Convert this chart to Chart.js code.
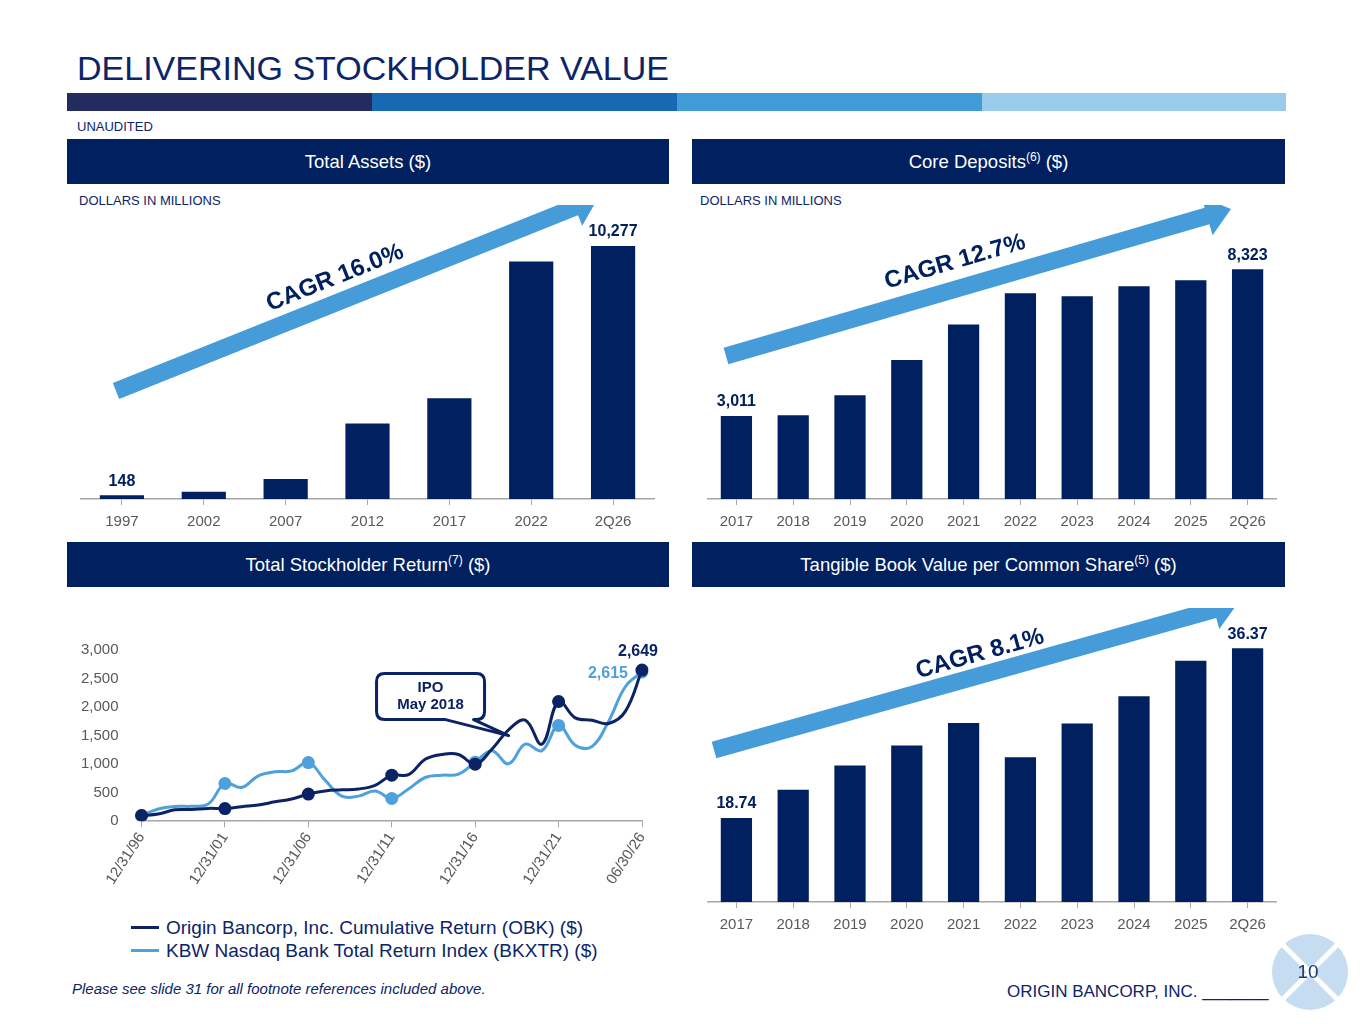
<!DOCTYPE html>
<html>
<head>
<meta charset="utf-8">
<script src="https://cdn.jsdelivr.net/npm/chart.js@4.4.1/dist/chart.umd.min.js"></script>
<style>
  body { margin:0; width:1365px; height:1024px; background:#fff; position:relative; overflow:hidden;
         font-family:"Liberation Sans", Arial, sans-serif; }
  .abs { position:absolute; }
  .title { left:77px; top:49px; font-size:34px; color:#0c2468; white-space:nowrap; }
  .band { top:93px; height:18px; }
  .small { font-size:13px; color:#0c2468; }
  .hdr { background:#002060; color:#fff; font-size:18.5px; text-align:center; height:45px; line-height:45px; }
  .hdr sup { font-size:12px; line-height:0; vertical-align:7px; }
  .legend { left:131px; font-size:19px; color:#0c2468; white-space:nowrap; }
  .legend span { display:inline-block; width:28px; height:3px; vertical-align:middle; margin-right:7px; margin-top:-3px; }
  .box { position:absolute; }
</style>
</head>
<body>

<div class="abs title">DELIVERING STOCKHOLDER VALUE</div>
<div class="abs band" style="left:67px;width:305px;background:#242b5e"></div>
<div class="abs band" style="left:372px;width:305px;background:#1769b3"></div>
<div class="abs band" style="left:677px;width:305px;background:#409bd7"></div>
<div class="abs band" style="left:982px;width:304px;background:#9bcbea"></div>
<div class="abs small" style="left:77px;top:119px">UNAUDITED</div>

<div class="abs hdr" style="left:67px;top:139px;width:602px">Total Assets ($)</div>
<div class="abs hdr" style="left:692px;top:139px;width:593px">Core Deposits<sup>(6)</sup> ($)</div>
<div class="abs hdr" style="left:67px;top:542px;width:602px">Total Stockholder Return<sup>(7)</sup> ($)</div>
<div class="abs hdr" style="left:692px;top:542px;width:593px">Tangible Book Value per Common Share<sup>(5)</sup> ($)</div>

<div class="abs small" style="left:79px;top:193px">DOLLARS IN MILLIONS</div>
<div class="abs small" style="left:700px;top:193px">DOLLARS IN MILLIONS</div>

<div class="box" id="boxAssets"><canvas id="assets"></canvas></div>
<div class="box" id="boxDeposits"><canvas id="deposits"></canvas></div>
<div class="box" id="boxTsr"><canvas id="tsr"></canvas></div>
<div class="box" id="boxTbv"><canvas id="tbv"></canvas></div>

<div class="abs legend" style="top:917px"><span style="background:#0b2265"></span>Origin Bancorp, Inc. Cumulative Return (OBK) ($)</div>
<div class="abs legend" style="top:940px"><span style="background:#4ea1db"></span>KBW Nasdaq Bank Total Return Index (BKXTR) ($)</div>

<div class="abs" style="left:72px;top:980px;font-size:15px;font-style:italic;color:#0c2468;white-space:nowrap">Please see slide 31 for all footnote references included above.</div>
<div class="abs" style="left:1007px;top:982px;font-size:17px;color:#0c2468;white-space:nowrap">ORIGIN BANCORP, INC. _______</div>

<svg class="abs" style="left:1270px;top:932px" width="80" height="80">
  <circle cx="40" cy="40" r="38" fill="#c6ddf1"/>
  <line x1="13" y1="13" x2="67" y2="67" stroke="#fff" stroke-width="5"/>
  <line x1="67" y1="13" x2="13" y2="67" stroke="#fff" stroke-width="5"/>
  <text x="38" y="46" font-size="19" fill="#1f3a6b" text-anchor="middle" font-family="Liberation Sans, Arial">10</text>
</svg>

<script>
// ---- data ----
const assetYears = ['1997', '2002', '2007', '2012', '2017', '2022', '2Q26'];
const assetValues = [148, 297, 811, 3070, 4097, 9655, 10277];

const depositYears = ['2017', '2018', '2019', '2020', '2021', '2022', '2023', '2024', '2025', '2Q26'];
const depositValues = [3011, 3035, 3758, 5035, 6324, 7456, 7347, 7709, 7926, 8323];

const tbvYears = ['2017', '2018', '2019', '2020', '2021', '2022', '2023', '2024', '2025', '2Q26'];
const tbvValues = [18.74, 21.67, 24.18, 26.25, 28.59, 25.04, 28.55, 31.38, 35.06, 36.37];

const tsrDates = ['12/31/96', '12/31/97', '12/31/98', '12/31/99', '12/31/00', '12/31/01', '12/31/02',
  '12/31/03', '12/31/04', '12/31/05', '12/31/06', '12/31/07', '12/31/08', '12/31/09', '12/31/10',
  '12/31/11', '12/31/12', '12/31/13', '12/31/14', '12/31/15', '12/31/16', '12/31/17', '12/31/18',
  '12/31/19', '12/31/20', '12/31/21', '12/31/22', '12/31/23', '12/31/24', '12/31/25', '06/30/26'];
const obkReturn = [100, 125, 200, 205, 225, 222, 255, 285, 340, 390, 476, 530, 550, 565, 630,
  807, 815, 1085, 1170, 1170, 1000, 1260, 1600, 1770, 1350, 2098, 1810, 1770, 1713, 1925, 2649];
const bkxtrReturn = [100, 215, 260, 262, 300, 661, 592, 795, 865, 882, 1027, 720, 440, 440, 530,
  400, 563, 766, 807, 824, 1034, 1236, 1006, 1350, 1236, 1678, 1333, 1310, 1753, 2356, 2615];
const tsrTicks = [0, 500, 1000, 1500, 2000, 2500, 3000];

const NAVY = '#002060';
const LIGHT = '#4ea1db';
const ARROW = '#469cd8';
const GRAY = '#595959';
const FONT = '"Liberation Sans", Arial, sans-serif';

// container boxes on the page
const boxes = {
  boxAssets:   { left: 67,  top: 205, width: 602, height: 334 },
  boxDeposits: { left: 692, top: 205, width: 593, height: 334 },
  boxTsr:      { left: 50,  top: 626, width: 619, height: 264 },
  boxTbv:      { left: 692, top: 608, width: 593, height: 334 }
};
Object.keys(boxes).forEach(id => {
  const b = boxes[id], el = document.getElementById(id);
  el.style.left = b.left + 'px'; el.style.top = b.top + 'px';
  el.style.width = b.width + 'px'; el.style.height = b.height + 'px';
});

// growth arrow + CAGR label, given in page coordinates
const decoPlugin = {
  id: 'deco',
  afterDatasetsDraw(chart, args, opts) {
    if (!opts || !opts.arrow) return;
    const ctx = chart.ctx;
    const ox = opts.box.left, oy = opts.box.top;
    const a = opts.arrow;
    const x0 = a.x0 - ox, y0 = a.y0 - oy, x1 = a.x1 - ox, y1 = a.y1 - oy;
    const len = Math.hypot(x1 - x0, y1 - y0);
    const ux = (x1 - x0) / len, uy = (y1 - y0) / len;
    const nx = -uy, ny = ux;
    const t = 17, hw = 40, hl = 25;
    const bx = x1 - ux * hl, by = y1 - uy * hl;
    ctx.save();
    ctx.fillStyle = ARROW;
    ctx.beginPath();
    ctx.moveTo(x0 + nx * t / 2, y0 + ny * t / 2);
    ctx.lineTo(bx + nx * t / 2, by + ny * t / 2);
    ctx.lineTo(bx + nx * hw / 2, by + ny * hw / 2);
    ctx.lineTo(x1, y1);
    ctx.lineTo(bx - nx * hw / 2, by - ny * hw / 2);
    ctx.lineTo(bx - nx * t / 2, by - ny * t / 2);
    ctx.lineTo(x0 - nx * t / 2, y0 - ny * t / 2);
    ctx.closePath();
    ctx.fill();
    // CAGR text
    ctx.translate(opts.text.x - ox, opts.text.y - oy);
    ctx.rotate(Math.atan2(uy, ux));
    ctx.fillStyle = NAVY;
    ctx.font = 'bold 24px ' + FONT;
    ctx.textAlign = 'center';
    ctx.textBaseline = 'middle';
    ctx.fillText(opts.text.label, 0, 0);
    ctx.restore();
  }
};

// value labels over first and last bars
const endLabels = {
  id: 'endLabels',
  afterDatasetsDraw(chart, args, opts) {
    if (!opts || !opts.format) return;
    const meta = chart.getDatasetMeta(0);
    const data = chart.data.datasets[0].data;
    const ctx = chart.ctx;
    ctx.save();
    ctx.fillStyle = NAVY;
    ctx.font = 'bold 16px ' + FONT;
    ctx.textAlign = 'center';
    ctx.textBaseline = 'bottom';
    [0, data.length - 1].forEach(i => {
      const bar = meta.data[i];
      ctx.fillText(opts.format(data[i]), bar.x, bar.y - 6);
    });
    ctx.restore();
  }
};

function barChart(id, boxId, labels, values, yMin, yMax, barPct, deco, fmt, pad) {
  return new Chart(document.getElementById(id), {
    type: 'bar',
    data: { labels: labels, datasets: [{ data: values, backgroundColor: NAVY, barPercentage: barPct, categoryPercentage: 1 }] },
    options: {
      responsive: true, maintainAspectRatio: false, animation: false,
      layout: { padding: pad },
      plugins: {
        legend: { display: false }, tooltip: { enabled: false },
        deco: Object.assign({ box: boxes[boxId] }, deco),
        endLabels: { format: fmt }
      },
      scales: {
        x: {
          grid: { display: true, drawOnChartArea: false, offset: false, tickLength: 6, color: '#a6a6a6', lineWidth: 1 },
          border: { color: '#a6a6a6', width: 1.5 },
          ticks: { color: GRAY, font: { size: 15, family: FONT }, padding: 8 }
        },
        y: { display: false, min: yMin, max: yMax }
      }
    },
    plugins: [decoPlugin, endLabels]
  });
}

barChart('assets', 'boxAssets', assetYears, assetValues, 0, 11540, 0.54,
  { arrow: { x0: 116, y0: 391, x1: 598, y1: 198 }, text: { x: 335, y: 278, label: 'CAGR 16.0%' } },
  v => v.toLocaleString('en-US'), { top: 10, left: 14, right: 15 });

barChart('deposits', 'boxDeposits', depositYears, depositValues, 0, 10290, 0.55,
  { arrow: { x0: 726, y0: 356, x1: 1231, y1: 209 }, text: { x: 955, y: 262, label: 'CAGR 12.7%' } },
  v => v.toLocaleString('en-US'), { top: 10, left: 16, right: 9 });

barChart('tbv', 'boxTbv', tbvYears, tbvValues, 10, 39.3, 0.55,
  { arrow: { x0: 714, y0: 750, x1: 1238, y1: 603 }, text: { x: 980, y: 654, label: 'CAGR 8.1%' } },
  v => v.toFixed(2), { top: 12, left: 16, right: 9 });

// IPO callout and end values on the return chart
const tsrExtras = {
  id: 'tsrExtras',
  afterDatasetsDraw(chart) {
    const ctx = chart.ctx;
    const xs = chart.scales.x, ys = chart.scales.y;
    const ipoIdx = tsrDates.indexOf('12/31/18');
    const tx = xs.getPixelForValue(ipoIdx), ty = ys.getPixelForValue(1500);
    const w = 108, h = 46, r = 8;
    const left = tx - 132, top = ty - 16 - h, right = left + w, bottom = top + h;
    ctx.save();
    ctx.beginPath();
    ctx.moveTo(left + r, top);
    ctx.lineTo(right - r, top);
    ctx.quadraticCurveTo(right, top, right, top + r);
    ctx.lineTo(right, bottom - r);
    ctx.quadraticCurveTo(right, bottom, right - r, bottom);
    ctx.lineTo(left + 97, bottom);
    ctx.lineTo(tx, ty);
    ctx.lineTo(left + 69, bottom);
    ctx.lineTo(left + r, bottom);
    ctx.quadraticCurveTo(left, bottom, left, bottom - r);
    ctx.lineTo(left, top + r);
    ctx.quadraticCurveTo(left, top, left + r, top);
    ctx.closePath();
    ctx.fillStyle = '#fff';
    ctx.fill();
    ctx.lineWidth = 3;
    ctx.strokeStyle = '#0b2265';
    ctx.lineJoin = 'round';
    ctx.stroke();
    ctx.fillStyle = '#0b2265';
    ctx.font = 'bold 15px ' + FONT;
    ctx.textAlign = 'center';
    ctx.textBaseline = 'middle';
    ctx.fillText('IPO', left + w / 2, top + 14);
    ctx.fillText('May 2018', left + w / 2, top + 31);

    const last = obkReturn.length - 1;
    const p0 = chart.getDatasetMeta(0).data[last];
    const p1 = chart.getDatasetMeta(1).data[last];
    ctx.font = 'bold 16px ' + FONT;
    ctx.fillStyle = '#0b2265';
    ctx.textBaseline = 'bottom';
    ctx.fillText(obkReturn[last].toLocaleString('en-US'), p0.x - 4, p0.y - 10);
    ctx.fillStyle = LIGHT;
    ctx.textAlign = 'right';
    ctx.textBaseline = 'middle';
    ctx.fillText(bkxtrReturn[last].toLocaleString('en-US'), p1.x - 14, p1.y + 2);
    ctx.restore();
  }
};

const markerRadius = c => (c.dataIndex % 5 === 0 ? 6.5 : 0);

new Chart(document.getElementById('tsr'), {
  type: 'line',
  data: {
    labels: tsrDates,
    datasets: [
      { label: 'Origin Bancorp, Inc. Cumulative Return (OBK) ($)', data: obkReturn, borderColor: '#0b2265',
        backgroundColor: '#0b2265', borderWidth: 3, tension: 0.4, pointRadius: markerRadius, pointBorderWidth: 0 },
      { label: 'KBW Nasdaq Bank Total Return Index (BKXTR) ($)', data: bkxtrReturn, borderColor: LIGHT,
        backgroundColor: LIGHT, borderWidth: 3, tension: 0.4, pointRadius: markerRadius, pointBorderWidth: 0 }
    ]
  },
  options: {
    responsive: true, maintainAspectRatio: false, animation: false,
    layout: { padding: { top: 8, left: 16, right: 27 } },
    plugins: { legend: { display: false }, tooltip: { enabled: false } },
    scales: {
      x: {
        grid: { display: true, drawOnChartArea: false, tickLength: 6, color: '#a6a6a6' },
        border: { color: '#a6a6a6', width: 1.5 },
        ticks: {
          autoSkip: false, minRotation: 57, maxRotation: 57, color: GRAY, padding: 2,
          font: { size: 15, family: FONT },
          callback: (v, i) => (i % 5 === 0 ? tsrDates[i] : null)
        }
      },
      y: {
        min: tsrTicks[0], max: tsrTicks[tsrTicks.length - 1],
        grid: { display: false }, border: { display: false },
        afterBuildTicks: axis => { axis.ticks = tsrTicks.map(v => ({ value: v })); },
        ticks: { color: GRAY, padding: 15, font: { size: 15, family: FONT },
          callback: v => v.toLocaleString('en-US') }
      }
    }
  },
  plugins: [tsrExtras]
});
</script>
</body>
</html>
